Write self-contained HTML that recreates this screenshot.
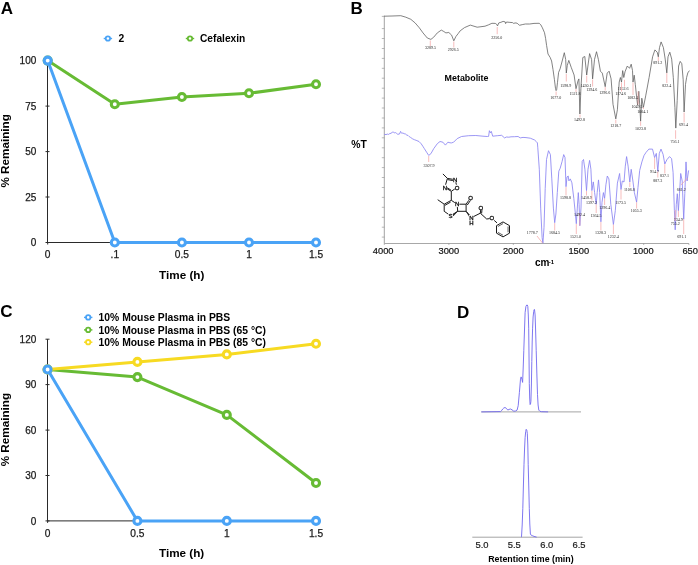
<!DOCTYPE html>
<html><head><meta charset="utf-8"><title>Figure</title>
<style>
html,body{margin:0;padding:0;background:#fff;}
body{width:698px;height:565px;overflow:hidden;font-family:"Liberation Sans", sans-serif;}
svg{display:block;will-change:transform;filter:blur(0.4px);}
</style></head>
<body>
<svg width="698" height="565" viewBox="0 0 698 565">
<rect width="698" height="565" fill="#fff"/>
<text x="0.8" y="13.7" font-size="17" font-weight="bold" text-anchor="start" fill="#000" font-family='"Liberation Sans", sans-serif' >A</text>
<line x1="103.7" y1="38.5" x2="112.10000000000001" y2="38.5" stroke="#4aa3f6" stroke-width="1.4"/>
<circle cx="107.9" cy="38.5" r="2.2" fill="#fff" stroke="#4aa3f6" stroke-width="1.8"/>
<text x="118.5" y="42.3" font-size="10.3" font-weight="bold" text-anchor="start" fill="#000" font-family='"Liberation Sans", sans-serif' >2</text>
<line x1="185.8" y1="38.5" x2="194.2" y2="38.5" stroke="#67bb34" stroke-width="1.4"/>
<circle cx="190" cy="38.5" r="2.2" fill="#fff" stroke="#67bb34" stroke-width="1.8"/>
<text x="200.0" y="42.4" font-size="10.2" font-weight="bold" text-anchor="start" fill="#000" font-family='"Liberation Sans", sans-serif' >Cefalexin</text>
<line x1="47.5" y1="60.6" x2="47.5" y2="242.5" stroke="#2a2a2a" stroke-width="1"/>
<line x1="47.5" y1="242.5" x2="316" y2="242.5" stroke="#2a2a2a" stroke-width="1"/>
<line x1="45.5" y1="60.6" x2="49.5" y2="60.6" stroke="#2a2a2a" stroke-width="1"/>
<text x="36.3" y="64.4" font-size="10" font-weight="normal" text-anchor="end" fill="#1a1a1a" font-family='"Liberation Sans", sans-serif' stroke="#1a1a1a" stroke-width="0.25">100</text>
<line x1="45.5" y1="106.1" x2="49.5" y2="106.1" stroke="#2a2a2a" stroke-width="1"/>
<text x="36.3" y="109.9" font-size="10" font-weight="normal" text-anchor="end" fill="#1a1a1a" font-family='"Liberation Sans", sans-serif' stroke="#1a1a1a" stroke-width="0.25">75</text>
<line x1="45.5" y1="151.6" x2="49.5" y2="151.6" stroke="#2a2a2a" stroke-width="1"/>
<text x="36.3" y="155.4" font-size="10" font-weight="normal" text-anchor="end" fill="#1a1a1a" font-family='"Liberation Sans", sans-serif' stroke="#1a1a1a" stroke-width="0.25">50</text>
<line x1="45.5" y1="197.0" x2="49.5" y2="197.0" stroke="#2a2a2a" stroke-width="1"/>
<text x="36.3" y="200.8" font-size="10" font-weight="normal" text-anchor="end" fill="#1a1a1a" font-family='"Liberation Sans", sans-serif' stroke="#1a1a1a" stroke-width="0.25">25</text>
<line x1="45.5" y1="242.5" x2="49.5" y2="242.5" stroke="#2a2a2a" stroke-width="1"/>
<text x="36.3" y="246.3" font-size="10" font-weight="normal" text-anchor="end" fill="#1a1a1a" font-family='"Liberation Sans", sans-serif' stroke="#1a1a1a" stroke-width="0.25">0</text>
<line x1="47.7" y1="242.5" x2="47.7" y2="244.5" stroke="#2a2a2a" stroke-width="1"/>
<text x="47.7" y="257.9" font-size="10.2" font-weight="normal" text-anchor="middle" fill="#1a1a1a" font-family='"Liberation Sans", sans-serif' stroke="#1a1a1a" stroke-width="0.25">0</text>
<line x1="114.8" y1="242.5" x2="114.8" y2="244.5" stroke="#2a2a2a" stroke-width="1"/>
<text x="114.8" y="257.9" font-size="10.2" font-weight="normal" text-anchor="middle" fill="#1a1a1a" font-family='"Liberation Sans", sans-serif' stroke="#1a1a1a" stroke-width="0.25">.1</text>
<line x1="181.9" y1="242.5" x2="181.9" y2="244.5" stroke="#2a2a2a" stroke-width="1"/>
<text x="181.9" y="257.9" font-size="10.2" font-weight="normal" text-anchor="middle" fill="#1a1a1a" font-family='"Liberation Sans", sans-serif' stroke="#1a1a1a" stroke-width="0.25">0.5</text>
<line x1="249.0" y1="242.5" x2="249.0" y2="244.5" stroke="#2a2a2a" stroke-width="1"/>
<text x="249.0" y="257.9" font-size="10.2" font-weight="normal" text-anchor="middle" fill="#1a1a1a" font-family='"Liberation Sans", sans-serif' stroke="#1a1a1a" stroke-width="0.25">1</text>
<line x1="316.0" y1="242.5" x2="316.0" y2="244.5" stroke="#2a2a2a" stroke-width="1"/>
<text x="316.0" y="257.9" font-size="10.2" font-weight="normal" text-anchor="middle" fill="#1a1a1a" font-family='"Liberation Sans", sans-serif' stroke="#1a1a1a" stroke-width="0.25">1.5</text>
<text x="181.7" y="278.6" font-size="11.7" font-weight="bold" text-anchor="middle" fill="#000" font-family='"Liberation Sans", sans-serif' >Time (h)</text>
<text transform="translate(9.1,150.9) rotate(-90)" font-size="11.7" font-weight="bold" text-anchor="middle" font-family='"Liberation Sans", sans-serif'>% Remaining</text>
<polyline points="47.7,60.6 114.8,104.3 181.9,97.0 249.0,93.3 316.0,84.2" fill="none" stroke="#67bb34" stroke-width="3.0" stroke-linejoin="round"/>
<circle cx="47.7" cy="60.6" r="3.5" fill="#fff" stroke="#67bb34" stroke-width="3.1"/>
<circle cx="114.8" cy="104.3" r="3.5" fill="#fff" stroke="#67bb34" stroke-width="3.1"/>
<circle cx="181.9" cy="97.0" r="3.5" fill="#fff" stroke="#67bb34" stroke-width="3.1"/>
<circle cx="249.0" cy="93.3" r="3.5" fill="#fff" stroke="#67bb34" stroke-width="3.1"/>
<circle cx="316.0" cy="84.2" r="3.5" fill="#fff" stroke="#67bb34" stroke-width="3.1"/>
<polyline points="47.7,60.6 114.8,242.5 181.9,242.5 249.0,242.5 316.0,242.5" fill="none" stroke="#4aa3f6" stroke-width="3.0" stroke-linejoin="round"/>
<circle cx="47.7" cy="60.6" r="3.5" fill="#fff" stroke="#4aa3f6" stroke-width="3.1"/>
<circle cx="114.8" cy="242.5" r="3.5" fill="#fff" stroke="#4aa3f6" stroke-width="3.1"/>
<circle cx="181.9" cy="242.5" r="3.5" fill="#fff" stroke="#4aa3f6" stroke-width="3.1"/>
<circle cx="249.0" cy="242.5" r="3.5" fill="#fff" stroke="#4aa3f6" stroke-width="3.1"/>
<circle cx="316.0" cy="242.5" r="3.5" fill="#fff" stroke="#4aa3f6" stroke-width="3.1"/>
<text x="0.2" y="317.2" font-size="17" font-weight="bold" text-anchor="start" fill="#000" font-family='"Liberation Sans", sans-serif' >C</text>
<line x1="84.0" y1="317.4" x2="92.4" y2="317.4" stroke="#4aa3f6" stroke-width="1.4"/>
<circle cx="88.2" cy="317.4" r="2.2" fill="#fff" stroke="#4aa3f6" stroke-width="1.8"/>
<text x="98.6" y="321.0" font-size="10.35" font-weight="bold" text-anchor="start" fill="#000" font-family='"Liberation Sans", sans-serif' >10% Mouse Plasma in PBS</text>
<line x1="84.0" y1="329.9" x2="92.4" y2="329.9" stroke="#67bb34" stroke-width="1.4"/>
<circle cx="88.2" cy="329.9" r="2.2" fill="#fff" stroke="#67bb34" stroke-width="1.8"/>
<text x="98.6" y="333.5" font-size="10.35" font-weight="bold" text-anchor="start" fill="#000" font-family='"Liberation Sans", sans-serif' >10% Mouse Plasma in PBS (65 °C)</text>
<line x1="84.0" y1="342.2" x2="92.4" y2="342.2" stroke="#f7da22" stroke-width="1.4"/>
<circle cx="88.2" cy="342.2" r="2.2" fill="#fff" stroke="#f7da22" stroke-width="1.8"/>
<text x="98.6" y="345.8" font-size="10.35" font-weight="bold" text-anchor="start" fill="#000" font-family='"Liberation Sans", sans-serif' >10% Mouse Plasma in PBS (85 °C)</text>
<line x1="47.5" y1="339.2" x2="47.5" y2="520.9" stroke="#2a2a2a" stroke-width="1"/>
<line x1="47.5" y1="520.9" x2="316" y2="520.9" stroke="#2a2a2a" stroke-width="1"/>
<line x1="45.5" y1="339.2" x2="49.5" y2="339.2" stroke="#2a2a2a" stroke-width="1"/>
<text x="36.3" y="343.0" font-size="10" font-weight="normal" text-anchor="end" fill="#1a1a1a" font-family='"Liberation Sans", sans-serif' stroke="#1a1a1a" stroke-width="0.25">120</text>
<line x1="45.5" y1="384.6" x2="49.5" y2="384.6" stroke="#2a2a2a" stroke-width="1"/>
<text x="36.3" y="388.4" font-size="10" font-weight="normal" text-anchor="end" fill="#1a1a1a" font-family='"Liberation Sans", sans-serif' stroke="#1a1a1a" stroke-width="0.25">90</text>
<line x1="45.5" y1="430.1" x2="49.5" y2="430.1" stroke="#2a2a2a" stroke-width="1"/>
<text x="36.3" y="433.9" font-size="10" font-weight="normal" text-anchor="end" fill="#1a1a1a" font-family='"Liberation Sans", sans-serif' stroke="#1a1a1a" stroke-width="0.25">60</text>
<line x1="45.5" y1="475.5" x2="49.5" y2="475.5" stroke="#2a2a2a" stroke-width="1"/>
<text x="36.3" y="479.3" font-size="10" font-weight="normal" text-anchor="end" fill="#1a1a1a" font-family='"Liberation Sans", sans-serif' stroke="#1a1a1a" stroke-width="0.25">30</text>
<line x1="45.5" y1="520.9" x2="49.5" y2="520.9" stroke="#2a2a2a" stroke-width="1"/>
<text x="36.3" y="524.7" font-size="10" font-weight="normal" text-anchor="end" fill="#1a1a1a" font-family='"Liberation Sans", sans-serif' stroke="#1a1a1a" stroke-width="0.25">0</text>
<line x1="47.6" y1="520.9" x2="47.6" y2="522.9" stroke="#2a2a2a" stroke-width="1"/>
<text x="47.6" y="536.8" font-size="10.2" font-weight="normal" text-anchor="middle" fill="#1a1a1a" font-family='"Liberation Sans", sans-serif' stroke="#1a1a1a" stroke-width="0.25">0</text>
<line x1="137.4" y1="520.9" x2="137.4" y2="522.9" stroke="#2a2a2a" stroke-width="1"/>
<text x="137.4" y="536.8" font-size="10.2" font-weight="normal" text-anchor="middle" fill="#1a1a1a" font-family='"Liberation Sans", sans-serif' stroke="#1a1a1a" stroke-width="0.25">0.5</text>
<line x1="226.8" y1="520.9" x2="226.8" y2="522.9" stroke="#2a2a2a" stroke-width="1"/>
<text x="226.8" y="536.8" font-size="10.2" font-weight="normal" text-anchor="middle" fill="#1a1a1a" font-family='"Liberation Sans", sans-serif' stroke="#1a1a1a" stroke-width="0.25">1</text>
<line x1="316.0" y1="520.9" x2="316.0" y2="522.9" stroke="#2a2a2a" stroke-width="1"/>
<text x="316.0" y="536.8" font-size="10.2" font-weight="normal" text-anchor="middle" fill="#1a1a1a" font-family='"Liberation Sans", sans-serif' stroke="#1a1a1a" stroke-width="0.25">1.5</text>
<text x="181.6" y="557.4" font-size="11.7" font-weight="bold" text-anchor="middle" fill="#000" font-family='"Liberation Sans", sans-serif' >Time (h)</text>
<text transform="translate(9.1,429.6) rotate(-90)" font-size="11.7" font-weight="bold" text-anchor="middle" font-family='"Liberation Sans", sans-serif'>% Remaining</text>
<polyline points="47.6,369.5 137.4,377.1 226.8,414.9 316.0,483.0" fill="none" stroke="#67bb34" stroke-width="3.0" stroke-linejoin="round"/>
<circle cx="47.6" cy="369.5" r="3.5" fill="#fff" stroke="#67bb34" stroke-width="3.1"/>
<circle cx="137.4" cy="377.1" r="3.5" fill="#fff" stroke="#67bb34" stroke-width="3.1"/>
<circle cx="226.8" cy="414.9" r="3.5" fill="#fff" stroke="#67bb34" stroke-width="3.1"/>
<circle cx="316.0" cy="483.0" r="3.5" fill="#fff" stroke="#67bb34" stroke-width="3.1"/>
<polyline points="47.6,369.5 137.4,361.9 226.8,354.4 316.0,343.8" fill="none" stroke="#f7da22" stroke-width="3.0" stroke-linejoin="round"/>
<circle cx="47.6" cy="369.5" r="3.5" fill="#fff" stroke="#f7da22" stroke-width="3.1"/>
<circle cx="137.4" cy="361.9" r="3.5" fill="#fff" stroke="#f7da22" stroke-width="3.1"/>
<circle cx="226.8" cy="354.4" r="3.5" fill="#fff" stroke="#f7da22" stroke-width="3.1"/>
<circle cx="316.0" cy="343.8" r="3.5" fill="#fff" stroke="#f7da22" stroke-width="3.1"/>
<polyline points="47.6,369.5 137.4,520.9 226.8,520.9 316.0,520.9" fill="none" stroke="#4aa3f6" stroke-width="3.0" stroke-linejoin="round"/>
<circle cx="47.6" cy="369.5" r="3.5" fill="#fff" stroke="#4aa3f6" stroke-width="3.1"/>
<circle cx="137.4" cy="520.9" r="3.5" fill="#fff" stroke="#4aa3f6" stroke-width="3.1"/>
<circle cx="226.8" cy="520.9" r="3.5" fill="#fff" stroke="#4aa3f6" stroke-width="3.1"/>
<circle cx="316.0" cy="520.9" r="3.5" fill="#fff" stroke="#4aa3f6" stroke-width="3.1"/>
<text x="457.0" y="317.7" font-size="17" font-weight="bold" text-anchor="start" fill="#000" font-family='"Liberation Sans", sans-serif' >D</text>
<line x1="481.3" y1="411.9" x2="581" y2="411.9" stroke="#9a9a9a" stroke-width="0.9"/>
<polyline points="481.3,411.9 500.5,411.6 501.8,410.4 502.7,409.0 503.8,408.0 505.0,407.5 506.3,408.3 507.8,410.1 509.0,409.4 510.5,409.0 512.0,409.8 513.8,411.2 515.5,411.0 517.1,410.1 518.2,405.7 519.4,392.4 520.5,379.1 521.1,376.9 521.9,379.0 522.6,382.4 523.2,368.0 523.8,350.3 524.5,330.0 525.1,312.7 525.9,306.5 526.7,305.0 527.3,305.0 527.8,306.5 528.3,315.0 528.7,328.2 529.0,355.0 529.3,383.6 529.7,398.0 530.1,404.6 530.5,404.0 530.9,401.3 531.4,385.0 531.8,361.4 532.2,342.0 532.6,328.2 533.1,317.0 533.7,311.6 534.1,309.6 534.5,309.5 535.1,314.9 535.6,330.0 536.2,350.3 536.9,375.0 537.5,394.6 538.1,405.0 538.8,410.1 540.0,411.3 541.5,411.7 548.1,411.9" fill="none" stroke="#7068ee" stroke-width="0.9" stroke-linejoin="round"/>
<line x1="472.3" y1="537.2" x2="582.6" y2="537.2" stroke="#9a9a9a" stroke-width="0.9"/>
<polyline points="521.0,537.2 521.5,536.8 522.2,525.0 522.8,508.6 523.4,486.0 524.0,464.3 524.6,448.0 525.1,437.7 525.7,431.5 526.2,429.3 526.8,430.2 527.3,433.3 527.8,445.0 528.2,464.3 528.8,488.0 529.3,508.6 529.8,524.0 530.4,534.1 531.2,535.2 532.2,535.6 534.0,536.4 536.6,537.1" fill="none" stroke="#7068ee" stroke-width="0.9" stroke-linejoin="round"/>
<text x="482" y="548.3" font-size="9.4" font-weight="normal" text-anchor="middle" fill="#1a1a1a" font-family='"Liberation Sans", sans-serif' stroke="#1a1a1a" stroke-width="0.2">5.0</text>
<text x="514.2" y="548.3" font-size="9.4" font-weight="normal" text-anchor="middle" fill="#1a1a1a" font-family='"Liberation Sans", sans-serif' stroke="#1a1a1a" stroke-width="0.2">5.5</text>
<text x="546.8" y="548.3" font-size="9.4" font-weight="normal" text-anchor="middle" fill="#1a1a1a" font-family='"Liberation Sans", sans-serif' stroke="#1a1a1a" stroke-width="0.2">6.0</text>
<text x="579" y="548.3" font-size="9.4" font-weight="normal" text-anchor="middle" fill="#1a1a1a" font-family='"Liberation Sans", sans-serif' stroke="#1a1a1a" stroke-width="0.2">6.5</text>
<text x="530.9" y="561.6" font-size="8.85" font-weight="bold" text-anchor="middle" fill="#000" font-family='"Liberation Sans", sans-serif' >Retention time (min)</text>
<text x="350.6" y="13.7" font-size="17" font-weight="bold" text-anchor="start" fill="#000" font-family='"Liberation Sans", sans-serif' >B</text>
<line x1="384.3" y1="15.6" x2="384.3" y2="243.5" stroke="#8a8a8a" stroke-width="0.8"/>
<line x1="384.3" y1="243.5" x2="688.9" y2="243.5" stroke="#a8a8a8" stroke-width="1"/>
<line x1="381.8" y1="16.4" x2="384.3" y2="16.4" stroke="#8a8a8a" stroke-width="0.6"/>
<line x1="381.8" y1="28.6" x2="384.3" y2="28.6" stroke="#8a8a8a" stroke-width="0.6"/>
<line x1="381.8" y1="38.5" x2="384.3" y2="38.5" stroke="#8a8a8a" stroke-width="0.6"/>
<line x1="381.8" y1="48.5" x2="384.3" y2="48.5" stroke="#8a8a8a" stroke-width="0.6"/>
<line x1="381.8" y1="58.4" x2="384.3" y2="58.4" stroke="#8a8a8a" stroke-width="0.6"/>
<line x1="381.8" y1="68.3" x2="384.3" y2="68.3" stroke="#8a8a8a" stroke-width="0.6"/>
<line x1="381.8" y1="78.2" x2="384.3" y2="78.2" stroke="#8a8a8a" stroke-width="0.6"/>
<line x1="381.8" y1="88.2" x2="384.3" y2="88.2" stroke="#8a8a8a" stroke-width="0.6"/>
<line x1="381.8" y1="98.1" x2="384.3" y2="98.1" stroke="#8a8a8a" stroke-width="0.6"/>
<line x1="381.8" y1="108.0" x2="384.3" y2="108.0" stroke="#8a8a8a" stroke-width="0.6"/>
<line x1="381.8" y1="118.0" x2="384.3" y2="118.0" stroke="#8a8a8a" stroke-width="0.6"/>
<line x1="381.8" y1="127.9" x2="384.3" y2="127.9" stroke="#8a8a8a" stroke-width="0.6"/>
<line x1="381.8" y1="137.8" x2="384.3" y2="137.8" stroke="#8a8a8a" stroke-width="0.6"/>
<line x1="381.8" y1="147.8" x2="384.3" y2="147.8" stroke="#8a8a8a" stroke-width="0.6"/>
<line x1="381.8" y1="157.7" x2="384.3" y2="157.7" stroke="#8a8a8a" stroke-width="0.6"/>
<line x1="381.8" y1="167.6" x2="384.3" y2="167.6" stroke="#8a8a8a" stroke-width="0.6"/>
<line x1="381.8" y1="177.5" x2="384.3" y2="177.5" stroke="#8a8a8a" stroke-width="0.6"/>
<line x1="381.8" y1="187.5" x2="384.3" y2="187.5" stroke="#8a8a8a" stroke-width="0.6"/>
<line x1="381.8" y1="197.4" x2="384.3" y2="197.4" stroke="#8a8a8a" stroke-width="0.6"/>
<line x1="381.8" y1="207.3" x2="384.3" y2="207.3" stroke="#8a8a8a" stroke-width="0.6"/>
<line x1="381.8" y1="217.3" x2="384.3" y2="217.3" stroke="#8a8a8a" stroke-width="0.6"/>
<line x1="381.8" y1="227.2" x2="384.3" y2="227.2" stroke="#8a8a8a" stroke-width="0.6"/>
<line x1="381.8" y1="237.1" x2="384.3" y2="237.1" stroke="#8a8a8a" stroke-width="0.6"/>
<line x1="384.3" y1="243.5" x2="384.3" y2="245.0" stroke="#8a8a8a" stroke-width="0.6"/>
<text x="383.2" y="254.3" font-size="9.3" font-weight="normal" text-anchor="middle" fill="#111" font-family='"Liberation Sans", sans-serif' stroke="#111" stroke-width="0.2">4000</text>
<line x1="448.9" y1="243.5" x2="448.9" y2="245.0" stroke="#8a8a8a" stroke-width="0.6"/>
<text x="448.85" y="254.3" font-size="9.3" font-weight="normal" text-anchor="middle" fill="#111" font-family='"Liberation Sans", sans-serif' stroke="#111" stroke-width="0.2">3000</text>
<line x1="513.3" y1="243.5" x2="513.3" y2="245.0" stroke="#8a8a8a" stroke-width="0.6"/>
<text x="513.3" y="254.3" font-size="9.3" font-weight="normal" text-anchor="middle" fill="#111" font-family='"Liberation Sans", sans-serif' stroke="#111" stroke-width="0.2">2000</text>
<line x1="578.9" y1="243.5" x2="578.9" y2="245.0" stroke="#8a8a8a" stroke-width="0.6"/>
<text x="578.8" y="254.3" font-size="9.3" font-weight="normal" text-anchor="middle" fill="#111" font-family='"Liberation Sans", sans-serif' stroke="#111" stroke-width="0.2">1500</text>
<line x1="643.7" y1="243.5" x2="643.7" y2="245.0" stroke="#8a8a8a" stroke-width="0.6"/>
<text x="643.3" y="254.3" font-size="9.3" font-weight="normal" text-anchor="middle" fill="#111" font-family='"Liberation Sans", sans-serif' stroke="#111" stroke-width="0.2">1000</text>
<line x1="688.9" y1="243.5" x2="688.9" y2="245.0" stroke="#8a8a8a" stroke-width="0.6"/>
<text x="690.2" y="254.3" font-size="9.3" font-weight="normal" text-anchor="middle" fill="#111" font-family='"Liberation Sans", sans-serif' stroke="#111" stroke-width="0.2">650</text>
<text x="535.0" y="266.0" font-size="10" font-weight="bold" text-anchor="start" fill="#000" font-family='"Liberation Sans", sans-serif' >cm</text>
<text x="548.8" y="263.8" font-size="6" font-weight="bold" text-anchor="start" fill="#000" font-family='"Liberation Sans", sans-serif' >-1</text>
<text x="351.2" y="147.6" font-size="10.4" font-weight="bold" text-anchor="start" fill="#000" font-family='"Liberation Sans", sans-serif' >%T</text>
<text x="444.6" y="81.2" font-size="8.9" font-weight="bold" text-anchor="start" fill="#000" font-family='"Liberation Sans", sans-serif' >Metabolite</text>
<polyline points="384.3,16.2 392.0,16.0 400.8,15.7 405.8,17.2 410.8,19.3 415.1,22.9 419.4,27.9 423.0,32.9 427.3,38.0 430.9,39.4 433.7,37.2 437.3,32.9 441.3,30.1 443.8,31.5 445.9,32.9 448.8,32.5 451.6,35.1 453.8,40.8 455.9,36.5 458.1,33.7 460.2,30.8 464.5,27.6 470.3,25.1 477.2,27.2 485.0,26.2 488.4,24.9 491.9,23.3 495.3,23.4 496.6,24.2 497.5,25.9 498.8,22.9 500.9,22.3 503.1,21.4 505.2,21.9 505.6,23.6 506.5,22.0 509.1,22.3 512.5,22.6 513.4,23.3 516.0,22.9 517.7,23.6 519.4,25.3 522.8,24.5 525.4,24.0 529.7,24.0 534.0,23.4 539.2,23.3 540.8,24.8 542.4,27.8 544.5,32.7 545.6,38.4 546.6,45.5 548.0,54.0 550.2,57.5 551.6,61.0 553.0,69.5 554.4,79.4 555.5,88.5 556.1,90.6 556.7,89.5 557.5,82.3 558.6,72.4 560.1,68.8 562.2,61.0 564.3,52.7 565.7,59.5 566.3,73.1 567.3,65.3 568.8,60.4 571.2,67.3 574.1,75.0 576.0,88.7 578.0,80.9 578.9,78.9 579.9,114.0 580.9,88.7 582.8,57.5 584.8,56.5 586.7,75.0 589.6,53.6 591.6,59.5 592.6,78.9 594.5,59.5 596.5,51.7 598.4,59.5 600.4,71.2 602.3,73.1 605.2,86.7 607.2,73.1 609.1,71.2 611.1,78.9 613.0,104.3 615.8,118.9 617.4,109.7 619.2,82.1 620.4,77.5 621.5,82.1 622.7,70.6 623.8,77.5 625.0,71.8 627.3,66.0 629.6,68.3 631.2,64.2 632.5,70.6 633.0,82.1 634.2,75.2 635.3,84.4 636.5,95.9 637.6,105.1 638.8,91.3 639.9,107.4 640.6,121.2 641.8,98.2 643.4,107.4 645.7,95.9 649.1,77.5 652.6,56.8 654.9,49.9 657.2,52.2 658.3,56.8 659.5,47.6 661.1,41.9 663.4,47.6 665.2,59.1 666.8,72.9 668.0,56.8 669.8,52.2 671.7,59.1 673.3,77.5 674.9,107.4 675.8,128.1 677.2,100.5 678.6,66.0 680.2,61.4 681.8,63.7 683.2,79.8 684.1,112.0 685.5,84.4 686.6,77.5 687.8,72.9 689.4,70.6" fill="none" stroke="#5a5a5a" stroke-width="0.75" stroke-linejoin="round"/>
<polyline points="384.3,134.3 386.0,134.6 387.4,134.1 388.6,134.4 389.7,133.6 391.0,133.3 392.2,132.3 393.2,132.0 394.2,132.8 395.5,132.6 396.6,133.4 397.8,134.3 399.5,134.0 400.1,132.6 400.6,131.4 401.2,132.9 401.8,133.2 403.0,133.0 404.1,133.7 405.5,134.0 406.9,135.2 408.0,135.4 409.2,136.6 410.5,137.4 412.7,138.9 414.4,139.7 416.1,140.3 419.0,141.5 421.2,143.8 422.8,146.2 424.4,148.7 426.6,152.2 428.7,155.4 430.9,153.7 433.7,148.7 437.3,143.7 440.0,141.5 442.9,142.2 445.4,145.1 447.9,142.2 450.0,142.8 451.5,142.9 453.6,142.2 457.2,138.6 461.5,136.5 468.7,135.7 475.8,135.5 483.0,136.2 487.3,136.5 488.6,136.4 489.4,130.7 490.4,132.9 491.3,131.4 492.7,136.2 497.3,135.7 501.6,135.3 503.0,136.5 504.5,137.9 506.5,137.0 508.8,137.2 511.0,136.8 514.5,136.7 518.1,136.5 520.2,137.9 523.0,137.4 526.0,137.6 530.3,138.2 534.6,140.0 536.3,141.6 537.4,142.9 537.8,147.8 539.3,169.2 540.7,208.1 542.1,237.4 542.9,243.2 544.0,227.6 545.2,188.7 546.5,159.5 548.5,150.7 550.4,154.6 551.8,178.9 553.4,208.1 554.7,222.7 555.9,214.0 557.3,192.6 558.8,171.2 560.2,168.2 562.1,161.4 563.7,154.6 565.0,157.5 566.0,186.7 567.0,177.0 568.2,176.0 568.9,180.9 570.3,178.9 571.9,182.8 573.8,198.4 575.4,214.0 576.3,223.7 577.3,208.1 578.3,192.6 579.1,204.3 579.8,225.7 581.0,208.1 582.2,161.4 583.5,159.5 584.9,169.2 586.5,190.6 588.0,169.2 589.6,160.4 590.9,169.2 591.9,190.6 593.3,181.9 594.6,192.6 596.2,204.3 597.2,192.6 598.5,179.9 599.7,192.6 600.9,221.8 602.0,202.3 603.4,192.6 604.6,198.4 605.9,184.8 607.3,176.0 608.9,178.9 610.8,204.3 613.4,224.5 615.3,210.7 617.4,183.1 619.6,173.5 621.0,189.5 622.3,181.0 624.0,182.0 625.3,166.1 626.6,156.6 628.1,166.1 629.8,182.0 631.2,169.3 632.9,181.0 634.4,192.7 636.6,202.2 638.0,187.3 639.7,170.4 641.9,161.9 644.0,155.5 646.1,152.3 648.9,149.1 652.5,149.1 654.6,157.6 656.3,153.4 657.8,171.4 659.3,153.4 661.0,149.1 663.1,154.4 664.8,164.0 666.9,159.7 669.5,156.6 671.6,158.7 673.1,172.5 674.4,210.7 675.2,229.8 676.3,204.3 677.3,193.7 678.4,210.7 679.5,193.7 680.7,173.5 682.2,181.0 683.7,219.2 684.8,193.7 686.0,161.9 687.1,181.0 688.6,170.4" fill="none" stroke="#8a84f2" stroke-width="0.85" stroke-linejoin="round"/>
<line x1="430.3" y1="40.5" x2="430.3" y2="46.2" stroke="#f4a0a0" stroke-width="0.7"/>
<text x="430.5" y="49.2" font-size="4.0" font-weight="normal" text-anchor="middle" fill="#222" font-family='"Liberation Serif", serif' >3289.5</text>
<line x1="453.8" y1="41.5" x2="453.8" y2="47.5" stroke="#f4a0a0" stroke-width="0.7"/>
<text x="453.2" y="51.0" font-size="4.0" font-weight="normal" text-anchor="middle" fill="#222" font-family='"Liberation Serif", serif' >2926.5</text>
<line x1="497.2" y1="27" x2="497.2" y2="34.2" stroke="#f4a0a0" stroke-width="0.7"/>
<text x="496.8" y="38.5" font-size="4.0" font-weight="normal" text-anchor="middle" fill="#222" font-family='"Liberation Serif", serif' >2256.0</text>
<line x1="556.1" y1="91.5" x2="556.1" y2="95.5" stroke="#f4a0a0" stroke-width="0.7"/>
<text x="555.8" y="98.9" font-size="4.0" font-weight="normal" text-anchor="middle" fill="#222" font-family='"Liberation Serif", serif' >1677.0</text>
<line x1="566.3" y1="74" x2="566.3" y2="81.5" stroke="#f4a0a0" stroke-width="0.7"/>
<text x="565.8" y="86.6" font-size="4.0" font-weight="normal" text-anchor="middle" fill="#222" font-family='"Liberation Serif", serif' >1598.9</text>
<line x1="576" y1="89" x2="576" y2="92" stroke="#f4a0a0" stroke-width="0.7"/>
<text x="575" y="94.6" font-size="4.0" font-weight="normal" text-anchor="middle" fill="#222" font-family='"Liberation Serif", serif' >1521.8</text>
<line x1="580" y1="114.5" x2="580" y2="117.5" stroke="#f4a0a0" stroke-width="0.7"/>
<text x="579.4" y="120.6" font-size="4.0" font-weight="normal" text-anchor="middle" fill="#222" font-family='"Liberation Serif", serif' >1492.8</text>
<line x1="586.7" y1="75.5" x2="586.7" y2="82.5" stroke="#f4a0a0" stroke-width="0.7"/>
<text x="586" y="86.6" font-size="4.0" font-weight="normal" text-anchor="middle" fill="#222" font-family='"Liberation Serif", serif' >1430.1</text>
<line x1="592.6" y1="79.5" x2="592.6" y2="86.5" stroke="#f4a0a0" stroke-width="0.7"/>
<text x="591.8" y="90.6" font-size="4.0" font-weight="normal" text-anchor="middle" fill="#222" font-family='"Liberation Serif", serif' >1394.6</text>
<line x1="605.2" y1="87" x2="605.2" y2="90.5" stroke="#f4a0a0" stroke-width="0.7"/>
<text x="604.8" y="93.6" font-size="4.0" font-weight="normal" text-anchor="middle" fill="#222" font-family='"Liberation Serif", serif' >1296.6</text>
<line x1="615.8" y1="119.5" x2="615.8" y2="123.5" stroke="#f4a0a0" stroke-width="0.7"/>
<text x="615.7" y="126.6" font-size="4.0" font-weight="normal" text-anchor="middle" fill="#222" font-family='"Liberation Serif", serif' >1218.7</text>
<line x1="624.5" y1="79.8" x2="624.5" y2="86.7" stroke="#f4a0a0" stroke-width="0.7"/>
<text x="623.2" y="90.4" font-size="4.0" font-weight="normal" text-anchor="middle" fill="#222" font-family='"Liberation Serif", serif' >1152.6</text>
<line x1="621.5" y1="82.5" x2="621.5" y2="91.5" stroke="#f4a0a0" stroke-width="0.7"/>
<text x="620.7" y="95.3" font-size="4.0" font-weight="normal" text-anchor="middle" fill="#222" font-family='"Liberation Serif", serif' >1174.6</text>
<line x1="633" y1="82.5" x2="633" y2="95" stroke="#f4a0a0" stroke-width="0.7"/>
<text x="632.8" y="99.4" font-size="4.0" font-weight="normal" text-anchor="middle" fill="#222" font-family='"Liberation Serif", serif' >1082.4</text>
<line x1="638.1" y1="91.5" x2="638.1" y2="104.5" stroke="#f4a0a0" stroke-width="0.7"/>
<text x="637" y="108.4" font-size="4.0" font-weight="normal" text-anchor="middle" fill="#222" font-family='"Liberation Serif", serif' >1049.5</text>
<line x1="643.4" y1="107.5" x2="643.4" y2="109" stroke="#f4a0a0" stroke-width="0.7"/>
<text x="642.8" y="112.5" font-size="4.0" font-weight="normal" text-anchor="middle" fill="#222" font-family='"Liberation Serif", serif' >1004.1</text>
<line x1="640.6" y1="121.5" x2="640.6" y2="125.8" stroke="#f4a0a0" stroke-width="0.7"/>
<text x="640.5" y="129.8" font-size="4.0" font-weight="normal" text-anchor="middle" fill="#222" font-family='"Liberation Serif", serif' >1023.8</text>
<line x1="658.3" y1="57" x2="658.3" y2="61" stroke="#f4a0a0" stroke-width="0.7"/>
<text x="657.7" y="64.2" font-size="4.0" font-weight="normal" text-anchor="middle" fill="#222" font-family='"Liberation Serif", serif' >891.2</text>
<line x1="666.8" y1="73" x2="666.8" y2="83" stroke="#f4a0a0" stroke-width="0.7"/>
<text x="666.7" y="86.7" font-size="4.0" font-weight="normal" text-anchor="middle" fill="#222" font-family='"Liberation Serif", serif' >822.4</text>
<line x1="675.6" y1="130.2" x2="675.6" y2="138.8" stroke="#f4a0a0" stroke-width="0.7"/>
<text x="675" y="142.6" font-size="4.0" font-weight="normal" text-anchor="middle" fill="#222" font-family='"Liberation Serif", serif' >756.1</text>
<line x1="684.1" y1="112.5" x2="684.1" y2="122.5" stroke="#f4a0a0" stroke-width="0.7"/>
<text x="683.6" y="125.8" font-size="4.0" font-weight="normal" text-anchor="middle" fill="#222" font-family='"Liberation Serif", serif' >691.4</text>
<line x1="428.7" y1="156" x2="428.7" y2="162" stroke="#f4a0a0" stroke-width="0.7"/>
<text x="429" y="166.7" font-size="4.0" font-weight="normal" text-anchor="middle" fill="#222" font-family='"Liberation Serif", serif' >3307.9</text>
<line x1="537" y1="236" x2="542.5" y2="243" stroke="#f4a0a0" stroke-width="0.7"/>
<text x="532.3" y="234.4" font-size="4.0" font-weight="normal" text-anchor="middle" fill="#222" font-family='"Liberation Serif", serif' >1778.7</text>
<line x1="554.7" y1="223" x2="554.7" y2="230.5" stroke="#f4a0a0" stroke-width="0.7"/>
<text x="554.4" y="234.4" font-size="4.0" font-weight="normal" text-anchor="middle" fill="#222" font-family='"Liberation Serif", serif' >1684.5</text>
<line x1="566" y1="187" x2="566" y2="195.5" stroke="#f4a0a0" stroke-width="0.7"/>
<text x="565.5" y="198.8" font-size="4.0" font-weight="normal" text-anchor="middle" fill="#222" font-family='"Liberation Serif", serif' >1598.8</text>
<line x1="576.3" y1="224" x2="576.3" y2="234" stroke="#f4a0a0" stroke-width="0.7"/>
<text x="575.5" y="237.7" font-size="4.0" font-weight="normal" text-anchor="middle" fill="#222" font-family='"Liberation Serif", serif' >1521.0</text>
<line x1="579.8" y1="213" x2="579.8" y2="225.7" stroke="#f4a0a0" stroke-width="0.7"/>
<text x="579.6" y="216.3" font-size="4.0" font-weight="normal" text-anchor="middle" fill="#222" font-family='"Liberation Serif", serif' >1492.4</text>
<line x1="586.5" y1="191" x2="586.5" y2="195.5" stroke="#f4a0a0" stroke-width="0.7"/>
<text x="586.4" y="199.2" font-size="4.0" font-weight="normal" text-anchor="middle" fill="#222" font-family='"Liberation Serif", serif' >1458.9</text>
<line x1="591.9" y1="191" x2="591.9" y2="200.5" stroke="#f4a0a0" stroke-width="0.7"/>
<text x="591.6" y="203.9" font-size="4.0" font-weight="normal" text-anchor="middle" fill="#222" font-family='"Liberation Serif", serif' >1397.2</text>
<line x1="596.2" y1="204.5" x2="596.2" y2="213" stroke="#f4a0a0" stroke-width="0.7"/>
<text x="596.1" y="216.7" font-size="4.0" font-weight="normal" text-anchor="middle" fill="#222" font-family='"Liberation Serif", serif' >1364.5</text>
<line x1="604.6" y1="198.6" x2="604.6" y2="205" stroke="#f4a0a0" stroke-width="0.7"/>
<text x="604.8" y="208.5" font-size="4.0" font-weight="normal" text-anchor="middle" fill="#222" font-family='"Liberation Serif", serif' >1296.4</text>
<line x1="600.9" y1="222" x2="600.9" y2="230.5" stroke="#f4a0a0" stroke-width="0.7"/>
<text x="600.5" y="233.8" font-size="4.0" font-weight="normal" text-anchor="middle" fill="#222" font-family='"Liberation Serif", serif' >1328.3</text>
<line x1="613.4" y1="224.6" x2="613.4" y2="234" stroke="#f4a0a0" stroke-width="0.7"/>
<text x="613.2" y="237.7" font-size="4.0" font-weight="normal" text-anchor="middle" fill="#222" font-family='"Liberation Serif", serif' >1232.4</text>
<line x1="621" y1="189.6" x2="621" y2="199.5" stroke="#f4a0a0" stroke-width="0.7"/>
<text x="620.6" y="203.7" font-size="4.0" font-weight="normal" text-anchor="middle" fill="#222" font-family='"Liberation Serif", serif' >1173.5</text>
<line x1="629.8" y1="182.2" x2="629.8" y2="187" stroke="#f4a0a0" stroke-width="0.7"/>
<text x="629.4" y="191" font-size="4.0" font-weight="normal" text-anchor="middle" fill="#222" font-family='"Liberation Serif", serif' >1106.8</text>
<line x1="636.6" y1="202.3" x2="636.6" y2="208.5" stroke="#f4a0a0" stroke-width="0.7"/>
<text x="636.2" y="212.2" font-size="4.0" font-weight="normal" text-anchor="middle" fill="#222" font-family='"Liberation Serif", serif' >1055.3</text>
<line x1="654.6" y1="157.7" x2="654.6" y2="169" stroke="#f4a0a0" stroke-width="0.7"/>
<text x="654.5" y="172.9" font-size="4.0" font-weight="normal" text-anchor="middle" fill="#222" font-family='"Liberation Serif", serif' >914.7</text>
<line x1="657.8" y1="171.5" x2="657.8" y2="177.5" stroke="#f4a0a0" stroke-width="0.7"/>
<text x="657.7" y="181.8" font-size="4.0" font-weight="normal" text-anchor="middle" fill="#222" font-family='"Liberation Serif", serif' >887.3</text>
<line x1="664.8" y1="164.1" x2="664.8" y2="173.5" stroke="#f4a0a0" stroke-width="0.7"/>
<text x="664.4" y="177.2" font-size="4.0" font-weight="normal" text-anchor="middle" fill="#222" font-family='"Liberation Serif", serif' >837.1</text>
<line x1="678.4" y1="210.8" x2="678.4" y2="217" stroke="#f4a0a0" stroke-width="0.7"/>
<text x="678.3" y="220.7" font-size="4.0" font-weight="normal" text-anchor="middle" fill="#222" font-family='"Liberation Serif", serif' >734.9</text>
<line x1="675.2" y1="210" x2="675.2" y2="221" stroke="#f4a0a0" stroke-width="0.7"/>
<text x="675.3" y="225" font-size="4.0" font-weight="normal" text-anchor="middle" fill="#222" font-family='"Liberation Serif", serif' >755.2</text>
<line x1="683.7" y1="219.3" x2="683.7" y2="234" stroke="#f4a0a0" stroke-width="0.7"/>
<text x="681.7" y="238.1" font-size="4.0" font-weight="normal" text-anchor="middle" fill="#222" font-family='"Liberation Serif", serif' >691.1</text>
<line x1="681" y1="185" x2="687.5" y2="178" stroke="#f4a0a0" stroke-width="0.7"/>
<text x="681.3" y="191" font-size="4.0" font-weight="normal" text-anchor="middle" fill="#222" font-family='"Liberation Serif", serif' >661.2</text>
<line x1="442.9" y1="173.9" x2="447.4" y2="178.4" stroke="#1a1a1a" stroke-width="1.0"/>
<line x1="447.4" y1="178.4" x2="455.1" y2="179.7" stroke="#1a1a1a" stroke-width="1.0"/>
<line x1="447.6" y1="179.6" x2="454.6" y2="180.9" stroke="#1a1a1a" stroke-width="1.0"/>
<line x1="455.1" y1="179.7" x2="457.1" y2="187.4" stroke="#1a1a1a" stroke-width="1.0"/>
<line x1="457.1" y1="187.4" x2="451.3" y2="191.3" stroke="#1a1a1a" stroke-width="1.0"/>
<line x1="451.3" y1="191.3" x2="444.8" y2="187.4" stroke="#1a1a1a" stroke-width="1.0"/>
<line x1="444.8" y1="187.4" x2="447.4" y2="178.4" stroke="#1a1a1a" stroke-width="1.0"/>
<line x1="450.9" y1="190.0" x2="445.8" y2="187.0" stroke="#1a1a1a" stroke-width="1.0"/>
<line x1="451.3" y1="191.3" x2="451.3" y2="200.3" stroke="#1a1a1a" stroke-width="1.0"/>
<line x1="451.3" y1="200.3" x2="444.2" y2="204.2" stroke="#1a1a1a" stroke-width="1.0"/>
<line x1="450.6" y1="202.1" x2="445.0" y2="205.3" stroke="#1a1a1a" stroke-width="1.0"/>
<line x1="444.2" y1="204.2" x2="437.7" y2="199.7" stroke="#1a1a1a" stroke-width="1.0"/>
<line x1="444.2" y1="204.2" x2="444.2" y2="211.3" stroke="#1a1a1a" stroke-width="1.0"/>
<line x1="444.2" y1="211.3" x2="450.6" y2="215.8" stroke="#1a1a1a" stroke-width="1.0"/>
<line x1="450.6" y1="215.8" x2="457.7" y2="211.3" stroke="#1a1a1a" stroke-width="1.0"/>
<line x1="457.7" y1="211.3" x2="457.1" y2="204.2" stroke="#1a1a1a" stroke-width="1.0"/>
<line x1="457.1" y1="204.2" x2="451.3" y2="200.3" stroke="#1a1a1a" stroke-width="1.0"/>
<line x1="457.1" y1="204.2" x2="466.1" y2="204.2" stroke="#1a1a1a" stroke-width="1.0"/>
<line x1="466.1" y1="204.2" x2="466.1" y2="211.3" stroke="#1a1a1a" stroke-width="1.0"/>
<line x1="466.1" y1="211.3" x2="457.7" y2="211.3" stroke="#1a1a1a" stroke-width="1.0"/>
<line x1="466.1" y1="204.2" x2="470.6" y2="197.7" stroke="#1a1a1a" stroke-width="1.0"/>
<line x1="467.3" y1="205.0" x2="471.7" y2="198.6" stroke="#1a1a1a" stroke-width="1.0"/>
<line x1="466.1" y1="211.3" x2="471.3" y2="217.7" stroke="#1a1a1a" stroke-width="1.0"/>
<line x1="471.3" y1="217.7" x2="480.3" y2="213.2" stroke="#1a1a1a" stroke-width="1.0"/>
<line x1="480.3" y1="213.2" x2="480.9" y2="207.4" stroke="#1a1a1a" stroke-width="1.0"/>
<line x1="481.6" y1="213.4" x2="482.2" y2="207.8" stroke="#1a1a1a" stroke-width="1.0"/>
<line x1="480.3" y1="213.2" x2="486.7" y2="219" stroke="#1a1a1a" stroke-width="1.0"/>
<line x1="486.7" y1="219" x2="491.9" y2="218.3" stroke="#1a1a1a" stroke-width="1.0"/>
<line x1="491.9" y1="218.3" x2="497" y2="222.9" stroke="#1a1a1a" stroke-width="1.0"/>
<polygon points="457.7,211.3 452.6,214.9 453.3,215.9" fill="#1a1a1a" stroke="#1a1a1a" stroke-width="0.5"/>
<polygon points="466.1,211.3 470.6,216.2 469.6,217.0" fill="#1a1a1a" stroke="#1a1a1a" stroke-width="0.5"/>
<line x1="496.5" y1="225.65" x2="503.0" y2="221.9" stroke="#1a1a1a" stroke-width="1.0"/>
<line x1="503.0" y1="221.9" x2="509.5" y2="225.65" stroke="#1a1a1a" stroke-width="1.0"/>
<line x1="509.5" y1="225.65" x2="509.5" y2="233.15" stroke="#1a1a1a" stroke-width="1.0"/>
<line x1="509.5" y1="233.15" x2="503.0" y2="236.9" stroke="#1a1a1a" stroke-width="1.0"/>
<line x1="503.0" y1="236.9" x2="496.5" y2="233.15" stroke="#1a1a1a" stroke-width="1.0"/>
<line x1="496.5" y1="233.15" x2="496.5" y2="225.65" stroke="#1a1a1a" stroke-width="1.0"/>
<line x1="497.93" y1="226.47" x2="503.0" y2="223.55" stroke="#1a1a1a" stroke-width="0.7"/>
<line x1="508.07" y1="226.47" x2="508.07" y2="232.33" stroke="#1a1a1a" stroke-width="0.7"/>
<line x1="503.0" y1="235.25" x2="497.93" y2="232.33" stroke="#1a1a1a" stroke-width="0.7"/>
<rect x="452.8" y="177.0" width="4.6" height="5.4" fill="#fff"/>
<text x="455.1" y="181.86" font-size="6.0" font-weight="normal" text-anchor="middle" fill="#111" font-family='"Liberation Sans", sans-serif' stroke="#111" stroke-width="0.3">N</text>
<rect x="454.8" y="184.70000000000002" width="4.6" height="5.4" fill="#fff"/>
<text x="457.1" y="189.56" font-size="6.0" font-weight="normal" text-anchor="middle" fill="#111" font-family='"Liberation Sans", sans-serif' stroke="#111" stroke-width="0.3">O</text>
<rect x="442.5" y="184.70000000000002" width="4.6" height="5.4" fill="#fff"/>
<text x="444.8" y="189.56" font-size="6.0" font-weight="normal" text-anchor="middle" fill="#111" font-family='"Liberation Sans", sans-serif' stroke="#111" stroke-width="0.3">N</text>
<rect x="448.3" y="213.10000000000002" width="4.6" height="5.4" fill="#fff"/>
<text x="450.6" y="217.96" font-size="6.0" font-weight="normal" text-anchor="middle" fill="#111" font-family='"Liberation Sans", sans-serif' stroke="#111" stroke-width="0.3">S</text>
<rect x="454.8" y="201.5" width="4.6" height="5.4" fill="#fff"/>
<text x="457.1" y="206.36" font-size="6.0" font-weight="normal" text-anchor="middle" fill="#111" font-family='"Liberation Sans", sans-serif' stroke="#111" stroke-width="0.3">N</text>
<rect x="468.3" y="195.0" width="4.6" height="5.4" fill="#fff"/>
<text x="470.6" y="199.86" font-size="6.0" font-weight="normal" text-anchor="middle" fill="#111" font-family='"Liberation Sans", sans-serif' stroke="#111" stroke-width="0.3">O</text>
<rect x="469.0" y="215.0" width="4.6" height="5.4" fill="#fff"/>
<text x="471.3" y="219.86" font-size="6.0" font-weight="normal" text-anchor="middle" fill="#111" font-family='"Liberation Sans", sans-serif' stroke="#111" stroke-width="0.3">N</text>
<text x="471.3" y="224.5" font-size="6.0" font-weight="normal" text-anchor="middle" fill="#111" font-family='"Liberation Sans", sans-serif' stroke="#111" stroke-width="0.3">H</text>
<rect x="478.59999999999997" y="204.70000000000002" width="4.6" height="5.4" fill="#fff"/>
<text x="480.9" y="209.56" font-size="6.0" font-weight="normal" text-anchor="middle" fill="#111" font-family='"Liberation Sans", sans-serif' stroke="#111" stroke-width="0.3">O</text>
<rect x="489.59999999999997" y="215.60000000000002" width="4.6" height="5.4" fill="#fff"/>
<text x="491.9" y="220.46" font-size="6.0" font-weight="normal" text-anchor="middle" fill="#111" font-family='"Liberation Sans", sans-serif' stroke="#111" stroke-width="0.3">O</text>
</svg>
</body></html>
